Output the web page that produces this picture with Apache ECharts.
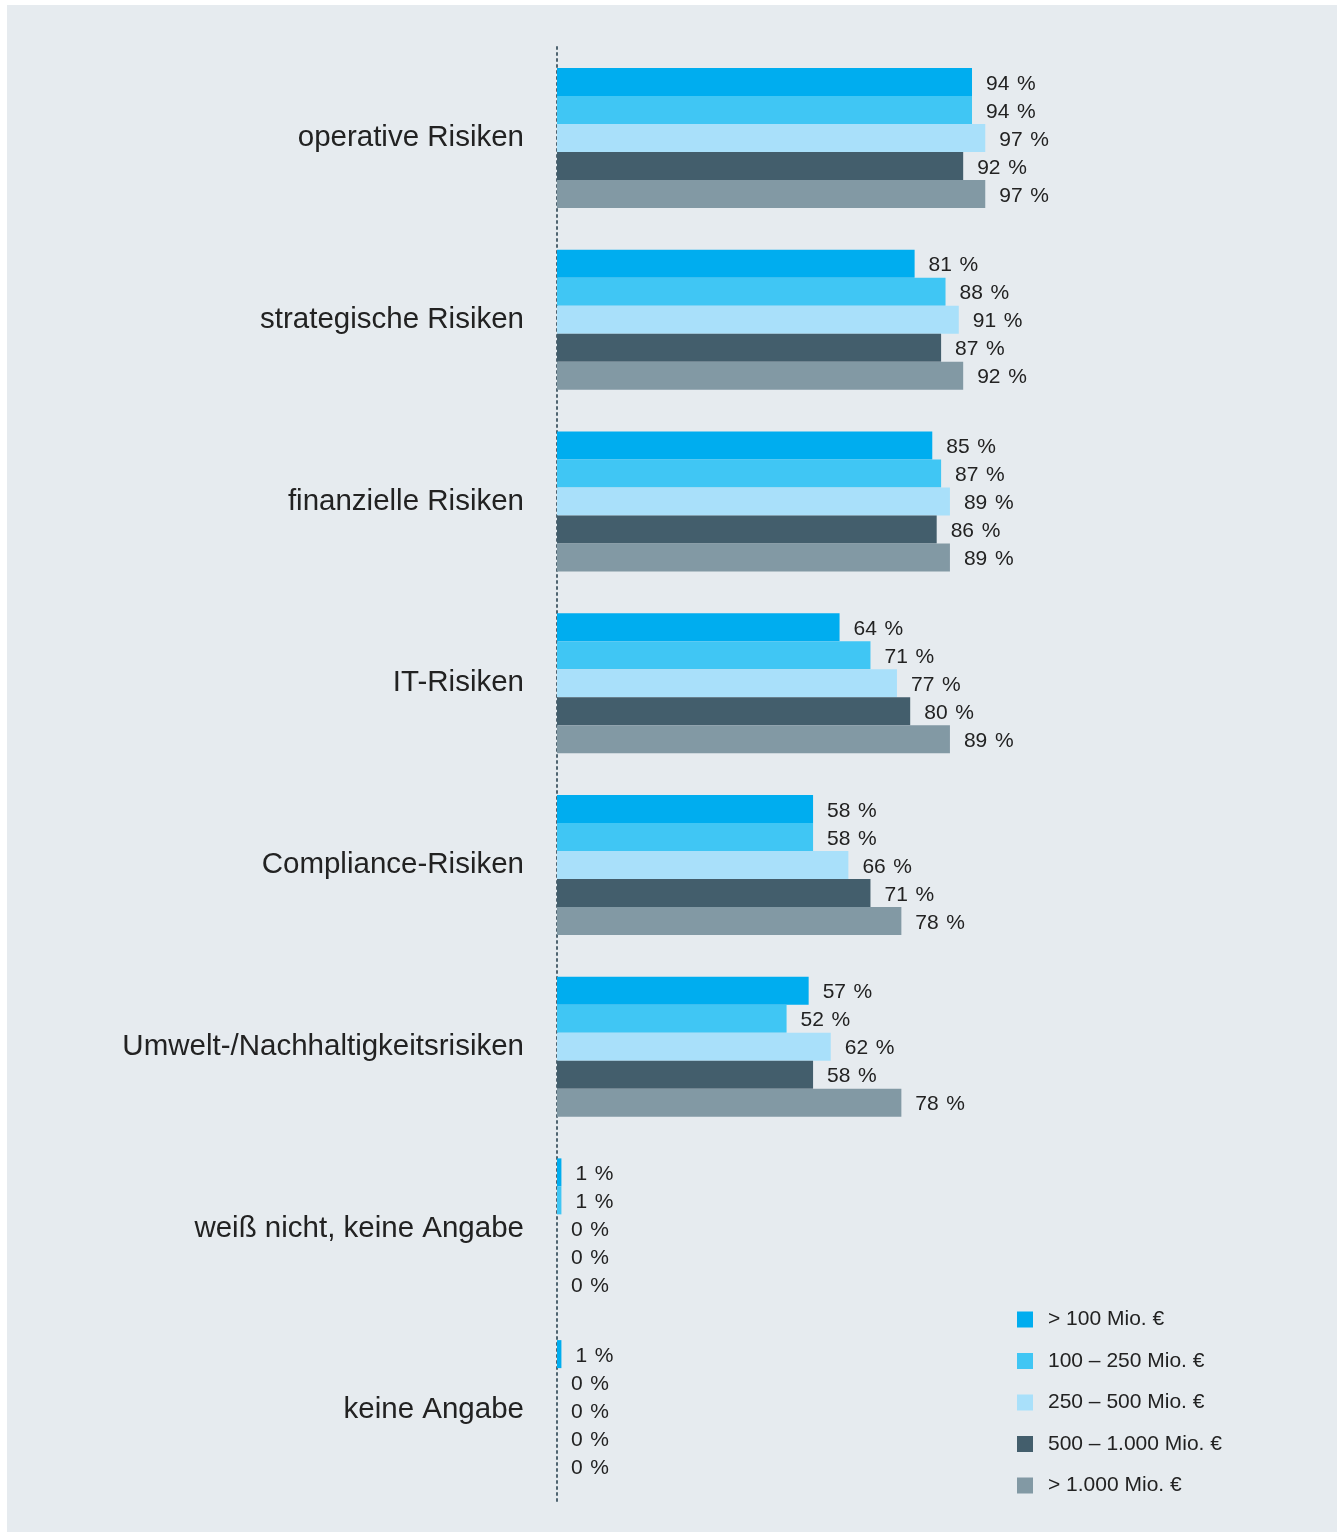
<!DOCTYPE html>
<html><head><meta charset="utf-8">
<script src="https://cdn.jsdelivr.net/npm/echarts@6/dist/echarts.min.js"></script>
<style>
html,body{margin:0;padding:0;background:#fff;}
#bg{position:absolute;left:7px;top:5px;width:1330px;height:1527px;background:#e6ebef;}
#c{position:absolute;left:0;top:0;width:1344px;height:1534px;}
</style></head>
<body><div id="bg"></div><div id="c"></div>
<script>
const categories = ["operative Risiken","strategische Risiken","finanzielle Risiken","IT-Risiken","Compliance-Risiken","Umwelt-/Nachhaltigkeitsrisiken","weiß nicht, keine Angabe","keine Angabe"];
const seriesNames = ["> 100 Mio. €","100 – 250 Mio. €","250 – 500 Mio. €","500 – 1.000 Mio. €","> 1.000 Mio. €"];
const s1 = [94,81,85,64,58,57,1,1];
const s2 = [94,88,87,71,58,52,1,0];
const s3 = [97,91,89,77,66,62,0,0];
const s4 = [92,87,86,80,71,58,0,0];
const s5 = [97,92,89,89,78,78,0,0];
const colors = ["#00adef","#40c6f4","#a9e0fa","#435e6c","#8299a4"];
const values = [s1,s2,s3,s4,s5];
const font = "Liberation Sans, Arial, sans-serif";
const chart = echarts.init(document.getElementById('c'));
chart.setOption({
  backgroundColor: 'transparent',
  animation: false,
  textStyle: {fontFamily: font},
  grid: {left: 557, top: 47, width: 441.5, height: 1454, containLabel: false},
  xAxis: {type: 'value', min: 0, max: 100, show: false},
  yAxis: {type: 'category', data: categories, inverse: true,
    axisLine: {show: true, lineStyle: {type: [2,4], color: '#4f6470', width: 2}},
    axisTick: {show: false},
    axisLabel: {fontSize: 29.5, color: '#222', margin: 33, fontFamily: font, padding: [4,0,0,0]}},
  legend: {orient: 'vertical', left: 1017, top: 1309, padding: 0, itemWidth: 16, itemHeight: 16, itemGap: 20.5,
    icon: 'rect', textStyle: {fontSize: 21, color: '#222', fontFamily: font, padding: [0,0,0,10]},
    data: seriesNames},
  series: values.map((v,i)=>({
    name: seriesNames[i], type: 'bar', data: v, barWidth: 28, barGap: '0%',
    itemStyle: {color: colors[i]},
    label: {show: true, position: 'right', distance: 14, offset: [0,2], formatter: '{c}\u200a %', fontSize: 21, color: '#222', fontFamily: font}
  }))
});
</script></body></html>
